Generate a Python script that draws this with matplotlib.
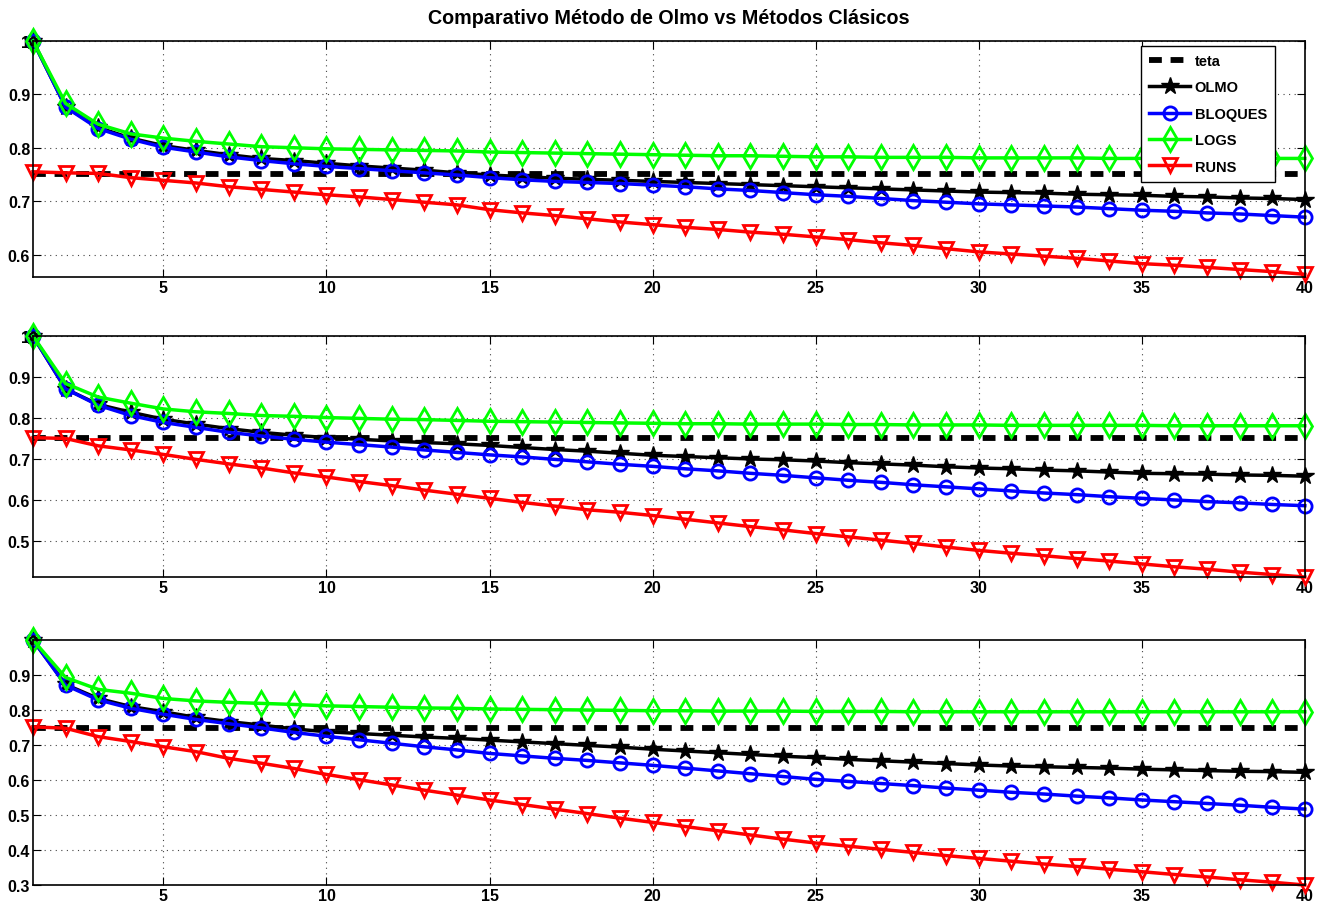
import matplotlib.pyplot as plt
import numpy as np

plt.rcParams['font.family'] = ['Liberation Sans Narrow', 'Liberation Sans', 'DejaVu Sans']
plt.rcParams['font.weight'] = 'bold'

x = list(range(1, 41))
teta = 0.75

# panel 1
olmo_1 = [1.0, 0.877, 0.838, 0.818, 0.804, 0.795, 0.787, 0.780, 0.776, 0.771,
          0.766, 0.762, 0.758, 0.753, 0.749, 0.746, 0.743, 0.741, 0.739, 0.737,
          0.735, 0.733, 0.731, 0.729, 0.727, 0.725, 0.723, 0.721, 0.719, 0.717,
          0.716, 0.715, 0.713, 0.712, 0.711, 0.709, 0.708, 0.706, 0.705, 0.703]
bloques_1 = [1.0, 0.876, 0.836, 0.816, 0.801, 0.792, 0.783, 0.776, 0.770, 0.765,
             0.761, 0.757, 0.753, 0.749, 0.744, 0.740, 0.737, 0.735, 0.733, 0.730,
             0.727, 0.723, 0.720, 0.716, 0.712, 0.709, 0.705, 0.701, 0.698, 0.695,
             0.693, 0.691, 0.689, 0.686, 0.683, 0.681, 0.678, 0.676, 0.673, 0.670]
logs_1 = [1.0, 0.883, 0.844, 0.826, 0.818, 0.812, 0.807, 0.802, 0.800, 0.798,
          0.797, 0.796, 0.795, 0.794, 0.792, 0.791, 0.790, 0.789, 0.788, 0.787,
          0.786, 0.785, 0.785, 0.784, 0.783, 0.783, 0.782, 0.782, 0.782, 0.781,
          0.781, 0.781, 0.781, 0.780, 0.780, 0.780, 0.780, 0.780, 0.780, 0.780]
runs_1 = [0.755, 0.753, 0.752, 0.744, 0.739, 0.734, 0.727, 0.722, 0.717, 0.712,
          0.708, 0.703, 0.698, 0.693, 0.684, 0.678, 0.673, 0.667, 0.661, 0.656,
          0.651, 0.647, 0.642, 0.638, 0.633, 0.628, 0.622, 0.617, 0.611, 0.605,
          0.601, 0.597, 0.593, 0.588, 0.583, 0.580, 0.576, 0.572, 0.568, 0.563]

# panel 2
olmo_2 = [1.0, 0.871, 0.833, 0.814, 0.797, 0.785, 0.774, 0.765, 0.758, 0.752,
          0.748, 0.744, 0.740, 0.737, 0.733, 0.728, 0.723, 0.719, 0.714, 0.709,
          0.706, 0.703, 0.700, 0.698, 0.695, 0.691, 0.688, 0.685, 0.681, 0.678,
          0.676, 0.673, 0.671, 0.668, 0.665, 0.664, 0.663, 0.661, 0.660, 0.658]
bloques_2 = [1.0, 0.871, 0.831, 0.806, 0.789, 0.777, 0.765, 0.756, 0.748, 0.741,
             0.735, 0.729, 0.722, 0.716, 0.710, 0.705, 0.699, 0.693, 0.687, 0.682,
             0.676, 0.671, 0.665, 0.660, 0.654, 0.648, 0.643, 0.637, 0.632, 0.627,
             0.622, 0.617, 0.613, 0.608, 0.604, 0.600, 0.596, 0.593, 0.589, 0.586]
logs_2 = [1.0, 0.884, 0.851, 0.836, 0.822, 0.815, 0.811, 0.806, 0.804, 0.801,
          0.799, 0.797, 0.796, 0.794, 0.792, 0.791, 0.790, 0.789, 0.788, 0.787,
          0.786, 0.786, 0.785, 0.785, 0.785, 0.784, 0.784, 0.783, 0.783, 0.783,
          0.782, 0.782, 0.782, 0.782, 0.782, 0.781, 0.781, 0.781, 0.781, 0.781]
runs_2 = [0.752, 0.750, 0.732, 0.722, 0.711, 0.699, 0.688, 0.678, 0.666, 0.656,
          0.645, 0.635, 0.624, 0.614, 0.604, 0.594, 0.585, 0.576, 0.570, 0.562,
          0.553, 0.544, 0.535, 0.527, 0.518, 0.510, 0.502, 0.494, 0.485, 0.477,
          0.470, 0.464, 0.457, 0.451, 0.444, 0.437, 0.431, 0.424, 0.418, 0.412]

# panel 3
olmo_3 = [1.0, 0.873, 0.833, 0.810, 0.795, 0.779, 0.767, 0.757, 0.746, 0.738,
          0.733, 0.728, 0.723, 0.719, 0.714, 0.709, 0.704, 0.699, 0.694, 0.688,
          0.683, 0.678, 0.673, 0.668, 0.664, 0.659, 0.655, 0.651, 0.647, 0.643,
          0.640, 0.638, 0.636, 0.634, 0.631, 0.629, 0.627, 0.625, 0.624, 0.622]
bloques_3 = [1.0, 0.871, 0.829, 0.805, 0.788, 0.773, 0.761, 0.749, 0.736, 0.725,
             0.715, 0.705, 0.695, 0.686, 0.676, 0.669, 0.662, 0.656, 0.649, 0.642,
             0.634, 0.626, 0.618, 0.610, 0.602, 0.596, 0.590, 0.584, 0.577, 0.571,
             0.565, 0.560, 0.554, 0.549, 0.543, 0.538, 0.533, 0.528, 0.522, 0.517]
logs_3 = [1.0, 0.893, 0.859, 0.848, 0.833, 0.826, 0.822, 0.819, 0.816, 0.812,
          0.810, 0.808, 0.806, 0.805, 0.803, 0.802, 0.801, 0.800, 0.799, 0.798,
          0.798, 0.797, 0.797, 0.797, 0.796, 0.796, 0.796, 0.795, 0.795, 0.795,
          0.795, 0.795, 0.795, 0.795, 0.795, 0.795, 0.795, 0.795, 0.795, 0.795]
runs_3 = [0.752, 0.748, 0.724, 0.710, 0.695, 0.681, 0.662, 0.648, 0.633, 0.616,
          0.601, 0.586, 0.571, 0.557, 0.543, 0.530, 0.517, 0.504, 0.491, 0.479,
          0.467, 0.455, 0.443, 0.431, 0.420, 0.411, 0.402, 0.393, 0.384, 0.376,
          0.368, 0.360, 0.353, 0.345, 0.338, 0.330, 0.323, 0.315, 0.308, 0.300]

panels = [
    (olmo_1, bloques_1, logs_1, runs_1, (0.558, 1.0), [0.6, 0.7, 0.8, 0.9, 1.0]),
    (olmo_2, bloques_2, logs_2, runs_2, (0.412, 1.0), [0.5, 0.6, 0.7, 0.8, 0.9, 1.0]),
    (olmo_3, bloques_3, logs_3, runs_3, (0.300, 1.0), [0.3, 0.4, 0.5, 0.6, 0.7, 0.8, 0.9]),
]
xticks = [5, 10, 15, 20, 25, 30, 35, 40]

# axes boxes in figure fractions (left, bottom, width, height)
boxes = [
    (0.0248, 0.6952, 0.957, 0.2588),
    (0.0248, 0.3662, 0.957, 0.2643),
    (0.0248, 0.0285, 0.957, 0.2686),
]

fig = plt.figure(figsize=(13.29, 9.12), dpi=100)

lw = 2.5
mew = 2.0

for i, (olmo, bloques, logs, runs, ylim, yticks) in enumerate(panels):
    ax = fig.add_axes(boxes[i])
    ax.plot(x, [teta] * len(x), color='black', lw=4.2, dashes=(2.2, 1.5), label='teta')
    ax.plot(x, olmo, color='black', lw=lw, marker='*', ms=13, mfc='black',
            mec='black', label='OLMO')
    ax.plot(x, bloques, color='blue', lw=lw, marker='o', ms=9.5, mfc='none',
            mec='blue', mew=mew, label='BLOQUES')
    ax.plot(x, logs, color='#00ff00', lw=lw, marker='d', ms=12.5, mfc='none',
            mec='#00ff00', mew=mew, label='LOGS')
    ax.plot(x, runs, color='red', lw=lw, marker='v', ms=10.5, mfc='none',
            mec='red', mew=mew, label='RUNS')

    ax.set_xlim(1, 40)
    ax.set_ylim(*ylim)
    ax.set_xticks(xticks)
    ax.set_yticks(yticks)
    ax.set_yticklabels(['1' if v == 1.0 else f'{v:.1f}' for v in yticks])
    ax.grid(True, color='#444444', linestyle=(0, (1, 4)), linewidth=0.8)
    ax.tick_params(direction='in', top=True, right=True, length=6, width=0.8,
                   labelsize=11.5, pad=2)
    for lab in ax.get_xticklabels() + ax.get_yticklabels():
        lab.set_fontweight('bold')
    for sp in ax.spines.values():
        sp.set_linewidth(1.2)
    for line in ax.lines:
        line.set_clip_on(False)

    if i == 0:
        ax.set_title('Comparativo Método de Olmo vs Métodos Clásicos',
                     fontsize=14.2, fontweight='bold', pad=13)
        leg = ax.legend(loc='upper right', bbox_to_anchor=(0.9764, 0.979),
                        borderaxespad=0, fancybox=False, framealpha=1,
                        edgecolor='black', handlelength=2.8, handletextpad=0.3,
                        labelspacing=0.85, borderpad=0.55,
                        prop={'weight': 'bold', 'size': 10.5})
        leg.get_frame().set_linewidth(1.0)
        leg.set_zorder(10)

fig.savefig('out.png', dpi=100)
